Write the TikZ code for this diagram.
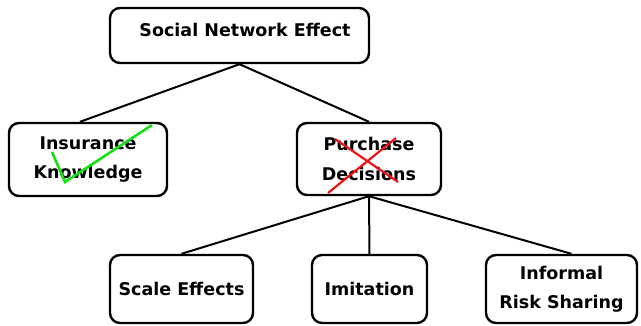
\documentclass[tikz,border=0pt]{standalone}
\usepackage{fontspec}
\setmainfont{DejaVu Sans}
\usetikzlibrary{calc}
\definecolor{chk}{RGB}{20,225,20}
\definecolor{crs}{RGB}{235,20,20}
\tikzset{
  box/.style={draw=black, line width=2.4pt, rounded corners=10pt, inner sep=0pt,
    align=center, font=\bfseries\fontsize{17.5}{29.5}\selectfont, fill=white},
  link/.style={draw=black, line width=2pt},
  txt/.style={inner sep=0pt, font=\bfseries\fontsize{17.5}{29.5}\selectfont, align=center}
}
\begin{document}
\begin{tikzpicture}[x=1pt,y=-1pt]
\useasboundingbox[fill=white] (0,0) rectangle (641,326);
\node[box, minimum width=259pt, minimum height=55pt] (top) at (239.5,35.5) {};
\node[txt] (toptxt) at (245,30) {Social Network Effect};
\node[box, minimum width=158pt, minimum height=73pt] (ins) at (88,159.5) {Insurance\\Knowledge};
\node[box, minimum width=144pt, minimum height=72pt] (pur) at (369,159) {Purchase\\Decisions};
\node[box, minimum width=143pt, minimum height=68pt] (scl) at (181.5,289) {Scale Effects};
\node[box, minimum width=115pt, minimum height=68pt] (imi) at (369.5,289) {Imitation};
\node[box, minimum width=151pt, minimum height=68pt] (inf) at (561.5,289) {Informal\\Risk Sharing};
\draw[link] (top.south) -- ($(ins.north)+(-8,0)$);
\draw[link] (top.south) -- (pur.north);
\draw[link] (pur.south) -- (scl.north);
\draw[link] (pur.south) -- (imi.north);
\draw[link] (pur.south) -- ($(inf.north)+(10,0)$);
% check mark and cross
\coordinate (c1) at (52,152);
\coordinate (c2) at (65,182);
\coordinate (c3) at (152,125);
\draw[chk, line width=2.6pt, line join=miter] (c1) -- (c2) -- (c3);
\coordinate (x1) at (335,139);
\coordinate (x2) at (398,182);
\coordinate (x3) at (396,138);
\coordinate (x4) at (328,193);
\draw[crs, line width=2.2pt] (x1) -- (x2);
\draw[crs, line width=2.2pt] (x3) -- (x4);
\end{tikzpicture}
\end{document}
